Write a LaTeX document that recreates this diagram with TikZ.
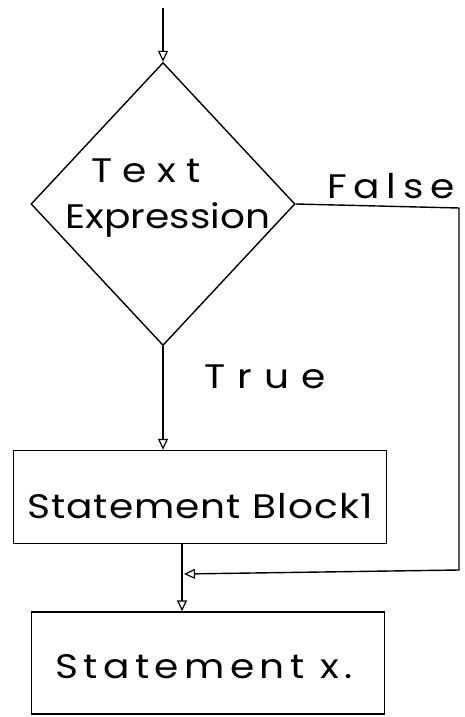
\documentclass[tikz,border=0pt]{standalone}
\usepackage{fontspec}
\setmainfont{Poppins}[FakeStretch=1.15]
\usetikzlibrary{shapes.geometric,arrows.meta}
\begin{document}
\begin{tikzpicture}[x=1pt,y=-1pt,
  line width=1.4pt,
  flow/.style={-{Triangle[open,length=11pt,width=10pt,line width=1.2pt]}},
  decision/.style={draw,diamond,inner sep=0pt,minimum width=264pt,minimum height=283pt},
  stmt/.style={draw,rectangle,inner sep=0pt},
  hand/.style={font=\fontsize{34}{40}\selectfont\addfontfeature{LetterSpace=#1},inner sep=0pt},
  hand/.default=0
]
\useasboundingbox (0,0) rectangle (465,717);

% decision
\node[decision] (dec) at (163,204) {};
\node[hand=30,anchor=base] (t1) at (146,182) {Text};
\node[hand,anchor=base] (t2) at (168,228) {Expression};

% statement boxes
\node[stmt,minimum width=373pt,minimum height=93pt] (blk) at (200,497) {};
\node[hand=3,anchor=base] (blktxt) at (200,518) {Statement Block1};
\node[stmt,minimum width=353pt,minimum height=102pt] (sx) at (208,663) {};
\node[hand=16,anchor=base] (sxtxt) at (204,678) {Statement x.};

% entry
\coordinate (start) at (163,8);
\draw[flow] (start) -- (dec.north);

% true branch
\draw[flow] (dec.south) -- (dec.south |- blk.north);
\node[hand=35,anchor=base] (tlab) at (265,388) {True};

% after block
\draw[flow] (blk.south -| 182,0) -- (sx.north -| 182,0) coordinate (sxin);

% false branch
\coordinate (fa) at (459,208);
\coordinate (fb) at (459,570);
\coordinate (join) at (184,574);
\draw[flow] (dec.east) -- (fa) -- (fb) -- (join);
\node[hand=20,anchor=base] (flab) at (391,198) {False};
\end{tikzpicture}
\end{document}
